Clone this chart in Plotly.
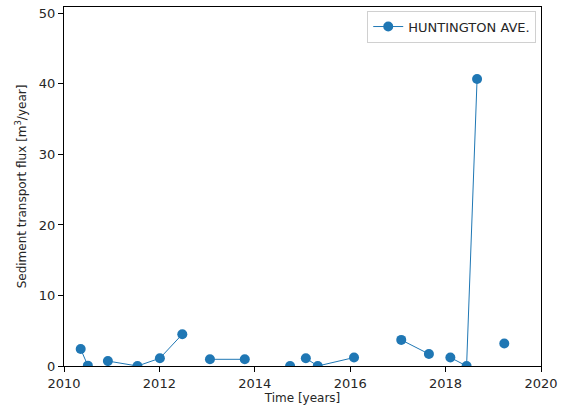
import plotly.graph_objects as go

# Time (decimal years); None marks a gap in the line
time_years = [2010.35, 2010.50, None,
              2010.92, 2011.54, 2012.01, 2012.48, None,
              2013.06, 2013.79, None,
              2014.74, None,
              2015.07, 2015.32, 2016.08, None,
              2017.07, 2017.65, None,
              2018.10, 2018.44, 2018.66, None,
              2019.23]
flux = [2.4, 0.05, None,
        0.7, 0.0, 1.1, 4.5, None,
        0.95, 0.95, None,
        0.0, None,
        1.1, 0.0, 1.2, None,
        3.7, 1.7, None,
        1.2, 0.0, 40.7, None,
        3.2]
series_name = "HUNTINGTON AVE."
x_ticks = [2010, 2012, 2014, 2016, 2018, 2020]
y_ticks = [0, 10, 20, 30, 40, 50]

fig = go.Figure()
fig.add_trace(go.Scatter(
    x=time_years, y=flux, name=series_name, mode="lines+markers",
    connectgaps=False,
    line=dict(color="#1f77b4", width=1),
    marker=dict(color="#1f77b4", size=10),
))

font = dict(family="DejaVu Sans", size=13, color="#262626")
fig.update_layout(
    width=570, height=409,
    margin=dict(l=64, r=29, t=7, b=43),
    paper_bgcolor="white", plot_bgcolor="white",
    font=font,
    showlegend=True,
    legend=dict(x=0.99, y=0.99, xanchor="right", yanchor="top",
                bordercolor="#d0d0d0", borderwidth=1, bgcolor="white",
                font=dict(family="DejaVu Sans", size=13, color="#262626"),
                itemwidth=30),
)
fig.update_xaxes(
    range=[2010, 2020], tickvals=x_ticks, ticktext=[str(t) for t in x_ticks],
    showgrid=False, zeroline=False, showline=True, linecolor="black", linewidth=1.2,
    mirror=True, ticks="outside", ticklen=5, tickcolor="black", automargin=False,
    tickfont=dict(size=13),
    title=dict(text="Time [years]", standoff=2, font=dict(size=12)),
)
fig.update_yaxes(
    range=[0, 50.9], tickvals=y_ticks,
    showgrid=False, zeroline=False, showline=True, linecolor="black", linewidth=1.2,
    mirror=True, ticks="outside", ticklen=5, tickcolor="black", automargin=False,
    tickfont=dict(size=13),
    title=dict(text="Sediment transport flux [m<sup>3</sup>/year]", standoff=9, font=dict(size=12)),
)
fig.write_html("out.html", config={"displayModeBar": False},
               post_script="document.body.style.margin='0';")
